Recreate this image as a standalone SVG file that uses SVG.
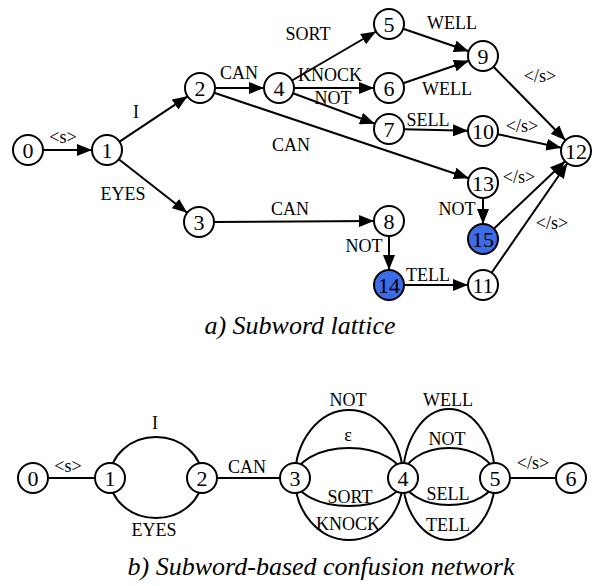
<svg xmlns="http://www.w3.org/2000/svg" width="595" height="586" viewBox="0 0 595 586">
<defs>
<marker id="ah" markerUnits="userSpaceOnUse" markerWidth="16" markerHeight="12" refX="15" refY="6" orient="auto">
<path d="M0,0 L15,6 L0,12 z" fill="#000"/>
</marker>
<style>
.e{fill:none;stroke:#000;stroke-width:2}
.a{marker-end:url(#ah)}
.n circle{fill:#fff;stroke:#000;stroke-width:2}
.n.b circle{fill:#3E6BE6}
.n text{font-family:"Liberation Serif","Times New Roman",serif;font-size:22px;text-anchor:middle;fill:#000}
.l{font-family:"Liberation Serif","Times New Roman",serif;font-size:18px;text-anchor:middle;fill:#000}
.c{font-family:"Liberation Serif","Times New Roman",serif;font-size:26px;font-style:italic;text-anchor:middle;fill:#000}
</style>
</defs>
<rect width="595" height="586" fill="#fff"/>

<g id="connectors">
<path class="e a" d="M43 150 L92 150"/>
<path class="e a" d="M119.5 141.7 L187.5 96.3"/>
<path class="e a" d="M118.8 159.2 L187.2 212.8"/>
<path class="e a" d="M215 88 L264 88"/>
<path class="e a" d="M214.2 92.8 L468.8 178.2"/>
<path class="e a" d="M214 222 L374 221"/>
<path class="e a" d="M292 80.5 L376 31.5"/>
<path class="e a" d="M294 88 L374 88"/>
<path class="e a" d="M293 93.2 L375 123.8"/>
<path class="e a" d="M403.2 28.8 L468.8 51.2"/>
<path class="e a" d="M403.2 83.2 L468.8 60.8"/>
<path class="e a" d="M404 129.3 L468 130.7"/>
<path class="e a" d="M493.5 66.7 L565.5 140.3"/>
<path class="e a" d="M497.7 134.2 L561.3 147.8"/>
<path class="e a" d="M483 198 L483 224"/>
<path class="e a" d="M493.9 228.7 L565.1 161.3"/>
<path class="e a" d="M389 236 L389 270"/>
<path class="e a" d="M404 285 L468 285"/>
<path class="e a" d="M491.6 272.7 L567.4 163.3"/>
<path class="e" d="M48 478 L95 478"/>
<path class="e" d="M110 478 A46 41 0 0 1 202 478"/>
<path class="e" d="M110 478 A46 40 0 0 0 202 478"/>
<path class="e" d="M217 478 L280 478"/>
<path class="e" d="M295 478 A54 68 0 0 1 403 478"/>
<path class="e" d="M295 478 A54 30 0 0 1 403 478"/>
<path class="e" d="M295 478 A54 28 0 0 0 403 478"/>
<path class="e" d="M295 478 A54 62 0 0 0 403 478"/>
<path class="e" d="M403 478 A46 69 0 0 1 495 478"/>
<path class="e" d="M403 478 A46 30 0 0 1 495 478"/>
<path class="e" d="M403 478 A46 27 0 0 0 495 478"/>
<path class="e" d="M403 478 A46 62 0 0 0 495 478"/>
<path class="e" d="M510 478 L556 478"/>
</g>

<g id="edge-labels">
<text class="l" x="63" y="143">&lt;s&gt;</text>
<text class="l" x="136" y="118">I</text>
<text class="l" x="123" y="200">EYES</text>
<text class="l" x="239" y="79">CAN</text>
<text class="l" x="291" y="151">CAN</text>
<text class="l" x="290" y="215">CAN</text>
<text class="l" x="308" y="40">SORT</text>
<text class="l" x="330" y="81">KNOCK</text>
<text class="l" x="333" y="104">NOT</text>
<text class="l" x="452" y="29">WELL</text>
<text class="l" x="447" y="95">WELL</text>
<text class="l" x="428" y="126">SELL</text>
<text class="l" x="540" y="82">&lt;/s&gt;</text>
<text class="l" x="522" y="132">&lt;/s&gt;</text>
<text class="l" x="519" y="183">&lt;/s&gt;</text>
<text class="l" x="457" y="215">NOT</text>
<text class="l" x="552" y="229">&lt;/s&gt;</text>
<text class="l" x="364" y="252">NOT</text>
<text class="l" x="428" y="281">TELL</text>

<text class="l" x="68" y="472">&lt;s&gt;</text>
<text class="l" x="155" y="429">I</text>
<text class="l" x="154" y="536">EYES</text>
<text class="l" x="247" y="473">CAN</text>
<text class="l" x="348" y="406">NOT</text>
<text class="l" x="348" y="441">ε</text>
<text class="l" x="350" y="503">SORT</text>
<text class="l" x="348" y="530">KNOCK</text>
<text class="l" x="448" y="406">WELL</text>
<text class="l" x="447" y="445">NOT</text>
<text class="l" x="448" y="500">SELL</text>
<text class="l" x="448" y="531">TELL</text>
<text class="l" x="533" y="469">&lt;/s&gt;</text>
</g>

<g id="lattice-nodes">
<g id="n0" class="n"><circle cx="28" cy="150" r="15"/><text x="28" y="158">0</text></g>
<g id="n1" class="n"><circle cx="107" cy="150" r="15"/><text x="107" y="158">1</text></g>
<g id="n2" class="n"><circle cx="200" cy="88" r="15"/><text x="200" y="96">2</text></g>
<g id="n3" class="n"><circle cx="199" cy="222" r="15"/><text x="199" y="230">3</text></g>
<g id="n4" class="n"><circle cx="279" cy="88" r="15"/><text x="279" y="96">4</text></g>
<g id="n5" class="n"><circle cx="389" cy="24" r="15"/><text x="389" y="32">5</text></g>
<g id="n6" class="n"><circle cx="389" cy="88" r="15"/><text x="389" y="96">6</text></g>
<g id="n7" class="n"><circle cx="389" cy="129" r="15"/><text x="389" y="137">7</text></g>
<g id="n8" class="n"><circle cx="389" cy="221" r="15"/><text x="389" y="229">8</text></g>
<g id="n9" class="n"><circle cx="483" cy="56" r="15"/><text x="483" y="64">9</text></g>
<g id="n10" class="n"><circle cx="483" cy="131" r="15"/><text x="483" y="139">10</text></g>
<g id="n11" class="n"><circle cx="483" cy="285" r="15"/><text x="483" y="293">11</text></g>
<g id="n12" class="n"><circle cx="576" cy="151" r="15"/><text x="576" y="159">12</text></g>
<g id="n13" class="n"><circle cx="483" cy="183" r="15"/><text x="483" y="191">13</text></g>
<g id="n14" class="n b"><circle cx="389" cy="285" r="15"/><text x="389" y="293">14</text></g>
<g id="n15" class="n b"><circle cx="483" cy="239" r="15"/><text x="483" y="247">15</text></g>
</g>

<g id="cn-nodes">
<g id="c0" class="n"><circle cx="33" cy="478" r="15"/><text x="33" y="486">0</text></g>
<g id="c1" class="n"><circle cx="110" cy="478" r="15"/><text x="110" y="486">1</text></g>
<g id="c2" class="n"><circle cx="202" cy="478" r="15"/><text x="202" y="486">2</text></g>
<g id="c3" class="n"><circle cx="295" cy="478" r="15"/><text x="295" y="486">3</text></g>
<g id="c4" class="n"><circle cx="403" cy="478" r="15"/><text x="403" y="486">4</text></g>
<g id="c5" class="n"><circle cx="495" cy="478" r="15"/><text x="495" y="486">5</text></g>
<g id="c6" class="n"><circle cx="571" cy="478" r="15"/><text x="571" y="486">6</text></g>
</g>

<g id="captions">
<text class="c" x="300" y="334">a) Subword lattice</text>
<text class="c" x="321" y="575">b) Subword-based confusion network</text>
</g>
</svg>
